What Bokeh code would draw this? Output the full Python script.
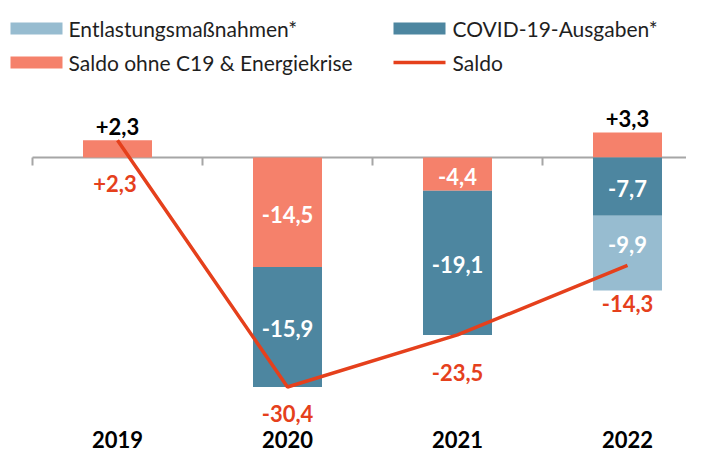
import numpy as np
from bokeh.plotting import figure
from bokeh.models import Range1d
from bokeh.core.properties import value
from bokeh.embed import file_html
from bokeh.resources import INLINE

# ---- data ----
years = ["2019", "2020", "2021", "2022"]
saldo_ohne = [2.3, -14.5, -4.4, 3.3]      # Saldo ohne C19 & Energiekrise
covid = [0.0, -15.9, -19.1, -7.7]          # COVID-19-Ausgaben*
entlastung = [0.0, 0.0, 0.0, -9.9]         # Entlastungsmaßnahmen*
saldo = [2.3, -30.4, -23.5, -14.3]         # Saldo (line)

legend_labels = ["Entlastungsmaßnahmen*", "COVID-19-Ausgaben*",
                 "Saldo ohne C19 & Energiekrise", "Saldo"]

# ---- style ----
SALMON = "#F5816B"
DARK = "#4D86A0"
LIGHT = "#97BCD0"
RED = "#E5401C"
AXIS = "#A6A6A6"
FONT = value("Lato")

W, H = 686, 455
X0 = 117.0      # px of first category centre
STEP = 170.0    # px per category
ZERO = 157.0    # px of y=0 from top
PPU = 7.55      # px per unit

def PX(xp):  # picture px -> data x
    return (xp - X0) / STEP

def PY(yp):  # picture px -> data y
    return (ZERO - yp) / PPU

def fmt(v):
    s = f"{abs(v):.1f}".replace(".", ",")
    return ("+" if v > 0 else "-") + s

p = figure(width=W, height=H,
           x_range=Range1d(-X0 / STEP, (W - X0) / STEP),
           y_range=Range1d(-(H - ZERO) / PPU, ZERO / PPU),
           output_backend="svg", toolbar_location=None,
           min_border=0, outline_line_color=None)
p.axis.visible = False
p.grid.visible = False
p.background_fill_color = "white"
p.border_fill_color = "white"

n = len(years)
xs = np.arange(n, dtype=float)

# zero line with category-boundary ticks
p.segment(x0=[-0.5], y0=[0], x1=[n - 0.5 + 1], y1=[0], line_color=AXIS, line_width=2)
bx = xs - 0.5
p.segment(x0=bx, y0=np.zeros(n), x1=bx, y1=np.full(n, -8 / PPU), line_color=AXIS, line_width=2)

# stacked bars
BAR_W = 69 / STEP
pos_base = np.zeros(n)
neg_base = np.zeros(n)
inner_lx, inner_ly, inner_t = [], [], []
top_lx, top_ly, top_t = [], [], []
for vals, col in [(saldo_ohne, SALMON), (covid, DARK), (entlastung, LIGHT)]:
    tops, bots, bx_ = [], [], []
    for i, v in enumerate(vals):
        if v == 0:
            continue
        if v > 0:
            b, t = pos_base[i], pos_base[i] + v
            pos_base[i] += v
            top_lx.append(xs[i]); top_ly.append(t + 14 / PPU); top_t.append(fmt(v))
        else:
            t, b = neg_base[i], neg_base[i] + v
            neg_base[i] += v
            adj = -9 if col == LIGHT else 2
            inner_lx.append(xs[i]); inner_ly.append((t + b) / 2 - adj / PPU); inner_t.append(fmt(v))
        tops.append(t); bots.append(b); bx_.append(xs[i])
    p.vbar(x=bx_, top=tops, bottom=bots, width=BAR_W, fill_color=col, line_color=None)

# saldo line
p.line(xs, saldo, line_color=RED, line_width=3.5)

# labels
p.text(x=inner_lx, y=inner_ly, text=inner_t, text_color="white", text_font=FONT,
       text_font_style="bold", text_font_size="22px", text_align="center", text_baseline="middle")
p.text(x=top_lx, y=top_ly, text=top_t, text_color="black", text_font=FONT,
       text_font_style="bold", text_font_size="22px", text_align="center", text_baseline="middle")
red_off = [43, 26, 38, 38]
p.text(x=list(xs - np.array([0.015, 0, 0, 0])), y=[s - o / PPU for s, o in zip(saldo, red_off)],
       text=[fmt(v) for v in saldo], text_color=RED, text_font=FONT,
       text_font_style="bold", text_font_size="22px", text_align="center", text_baseline="middle")

# year labels
p.text(x=xs, y=np.full(n, PY(439)), text=years, text_color="black", text_font=FONT,
       text_font_style="bold", text_font_size="22px", text_align="center", text_baseline="middle")

# legend (manual, two columns)
sw = [(10, 62, 28, LIGHT), (393, 445, 28, DARK), (10, 62, 62, SALMON)]
p.quad(left=[PX(a) for a, b, c, d in sw], right=[PX(b) for a, b, c, d in sw],
       top=[PY(c - 6) for a, b, c, d in sw], bottom=[PY(c + 6) for a, b, c, d in sw],
       fill_color=[d for a, b, c, d in sw], line_color=None)
p.segment(x0=[PX(393)], y0=[PY(62)], x1=[PX(445)], y1=[PY(62)], line_color=RED, line_width=3.5)
p.text(x=[PX(68), PX(452), PX(68), PX(452)], y=[PY(28), PY(28), PY(62), PY(62)],
       text=legend_labels, text_color="#1F1F1F", text_font=FONT, text_font_size="21px",
       text_align="left", text_baseline="middle")

open("out.html", "w").write(file_html(p, INLINE))
